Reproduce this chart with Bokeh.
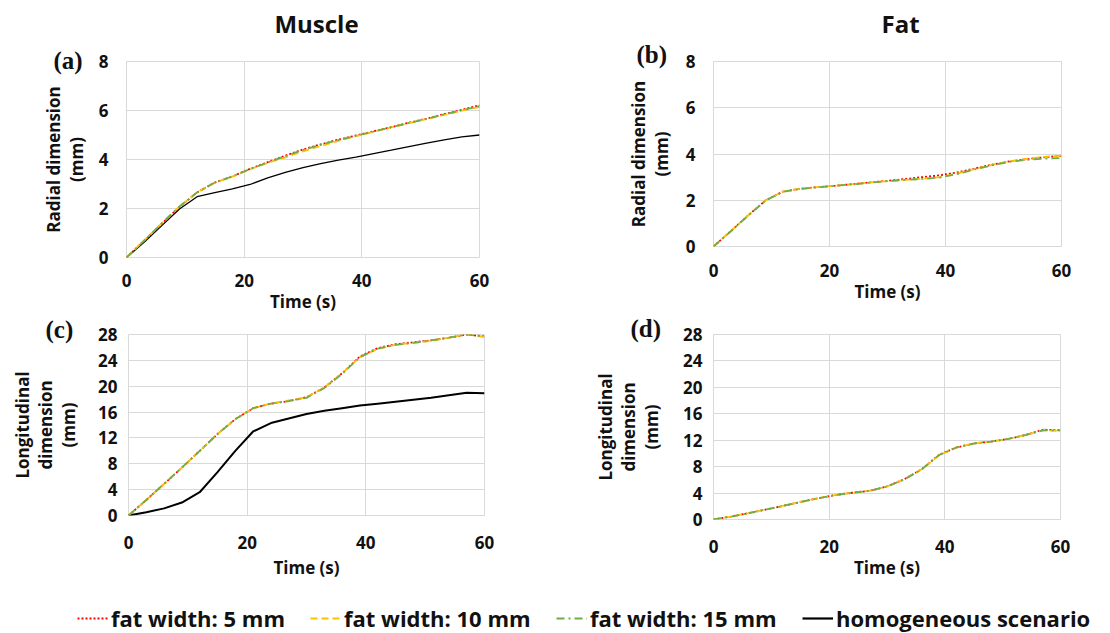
from bokeh.plotting import figure
from bokeh.models import Range1d, FixedTicker, Legend, LegendItem, Title, Label
from bokeh.layouts import column, row
from bokeh.embed import file_html
from bokeh.resources import INLINE

# ---------------- data ----------------
time_s = [0, 3, 6, 9, 12, 15, 18, 21, 24, 27, 30, 33, 36, 39, 42, 45, 48, 51, 54, 57, 60]

# (a) Muscle - radial dimension (mm)
a_fat5 = [0, 0.68, 1.38, 2.07, 2.65, 3.06, 3.31, 3.62, 3.89, 4.16, 4.41, 4.62, 4.81, 4.98, 5.15, 5.32, 5.50, 5.67, 5.85, 6.03, 6.21]
a_fat10 = [0, 0.70, 1.40, 2.08, 2.66, 3.05, 3.30, 3.60, 3.86, 4.09, 4.33, 4.55, 4.76, 4.95, 5.13, 5.31, 5.48, 5.65, 5.82, 5.99, 6.15]
a_fat15 = [0, 0.69, 1.39, 2.08, 2.66, 3.06, 3.31, 3.61, 3.88, 4.14, 4.39, 4.60, 4.79, 4.97, 5.14, 5.32, 5.49, 5.66, 5.84, 6.01, 6.18]
a_homog = [0, 0.62, 1.30, 1.98, 2.48, 2.65, 2.80, 2.98, 3.25, 3.47, 3.67, 3.83, 3.97, 4.10, 4.24, 4.38, 4.53, 4.67, 4.80, 4.92, 5.00]

# (b) Fat - radial dimension (mm)
b_fat5 = [0, 0.67, 1.35, 2.00, 2.38, 2.50, 2.57, 2.63, 2.70, 2.77, 2.84, 2.92, 3.00, 3.08, 3.20, 3.37, 3.54, 3.68, 3.78, 3.86, 3.92]
b_fat10 = [0, 0.67, 1.35, 2.00, 2.38, 2.50, 2.57, 2.63, 2.70, 2.77, 2.83, 2.88, 2.93, 3.00, 3.15, 3.35, 3.53, 3.68, 3.79, 3.88, 3.93]
b_fat15 = [0, 0.66, 1.34, 1.99, 2.37, 2.49, 2.56, 2.62, 2.69, 2.76, 2.83, 2.88, 2.92, 2.98, 3.13, 3.33, 3.51, 3.66, 3.75, 3.80, 3.82]

# (c) Muscle - longitudinal dimension (mm)
c_fat5 = [0, 2.4, 4.9, 7.4, 10.0, 12.6, 14.9, 16.6, 17.3, 17.7, 18.3, 19.8, 22.0, 24.6, 25.9, 26.5, 26.8, 27.1, 27.5, 28.0, 27.7]
c_fat10 = [0, 2.4, 4.9, 7.4, 10.0, 12.6, 14.9, 16.6, 17.3, 17.8, 18.3, 19.8, 22.0, 24.5, 25.8, 26.4, 26.7, 27.0, 27.5, 28.1, 27.6]
c_fat15 = [0, 2.4, 4.9, 7.4, 10.0, 12.6, 14.9, 16.6, 17.3, 17.7, 18.2, 19.7, 21.9, 24.5, 25.8, 26.4, 26.7, 27.1, 27.5, 28.0, 27.7]
c_homog = [0, 0.5, 1.1, 2.0, 3.6, 6.7, 10.0, 13.0, 14.3, 15.0, 15.7, 16.2, 16.6, 17.0, 17.3, 17.6, 17.9, 18.2, 18.6, 19.0, 18.9]

# (d) Fat - longitudinal dimension (mm)
d_fat5 = [0, 0.45, 0.95, 1.50, 2.05, 2.65, 3.20, 3.70, 4.05, 4.35, 5.00, 6.10, 7.60, 9.80, 10.9, 11.5, 11.8, 12.2, 12.8, 13.6, 13.5]
d_fat10 = [0, 0.45, 0.95, 1.50, 2.05, 2.65, 3.20, 3.70, 4.05, 4.35, 5.00, 6.10, 7.60, 9.70, 10.9, 11.5, 11.8, 12.2, 12.8, 13.5, 13.4]
d_fat15 = [0, 0.44, 0.94, 1.50, 2.04, 2.64, 3.19, 3.70, 4.04, 4.34, 4.98, 6.08, 7.58, 9.75, 10.9, 11.5, 11.8, 12.2, 12.8, 13.5, 13.5]

x_ticks = [0, 20, 40, 60]
y_ticks_radial = [0, 2, 4, 6, 8]
y_ticks_long = [0, 4, 8, 12, 16, 20, 24, 28]

column_titles = ["Muscle", "Fat"]
series_names = ["fat width: 5 mm", "fat width: 10 mm", "fat width: 15 mm", "homogeneous scenario"]

# ---------------- styles ----------------
SANS = "Open Sans"
SERIF = "Liberation Serif"
GRID = "#d9d9d9"
STY = {
    "fat5": dict(line_color="#ff0000", line_dash="2 2", line_width=1.8),
    "fat10": dict(line_color="#ffc000", line_dash="7 4", line_width=1.8),
    "fat15": dict(line_color="#70ad47", line_dash="8 4 2 4", line_width=1.8),
    "homog": dict(line_color="#000000", line_width=1.6),
}


def make_panel(fw, fh, bl, br, bt, bb, ymax, yticks, ylabel,
               ystand, ylab_stand, xstand, xlab_stand):
    p = figure(frame_width=fw, frame_height=fh,
               min_border_left=bl, min_border_right=br,
               min_border_top=bt, min_border_bottom=bb,
               x_range=Range1d(0, 60), y_range=Range1d(0, ymax),
               output_backend="svg", toolbar_location=None)
    p.outline_line_color = GRID
    p.background_fill_color = "white"
    p.border_fill_color = "white"
    for ax in (p.xaxis[0], p.yaxis[0]):
        ax.axis_line_color = None
        ax.major_tick_line_color = None
        ax.minor_tick_line_color = None
        ax.major_tick_in = 0
        ax.major_tick_out = 0
        ax.minor_tick_in = 0
        ax.minor_tick_out = 0
        ax.major_label_text_font = SANS
        ax.major_label_text_font_style = "bold"
        ax.major_label_text_font_size = "17px"
        ax.major_label_text_color = "#111111"
        ax.major_label_text_line_height = 1.0
        ax.axis_label_text_font = SANS
        ax.axis_label_text_font_style = "bold"
        ax.axis_label_text_font_size = "17px"
        ax.axis_label_text_color = "#111111"
        ax.axis_label_text_line_height = 1.0
    p.xaxis.ticker = FixedTicker(ticks=x_ticks)
    p.yaxis.ticker = FixedTicker(ticks=yticks)
    p.xaxis.axis_label = "Time (s)"
    p.yaxis.axis_label = ylabel
    p.yaxis.major_label_standoff = ystand
    p.yaxis.axis_label_standoff = ylab_stand
    p.xaxis.major_label_standoff = xstand
    p.xaxis.axis_label_standoff = xlab_stand
    p.xgrid.grid_line_color = GRID
    p.ygrid.grid_line_color = GRID
    p.xgrid.ticker = FixedTicker(ticks=x_ticks)
    p.ygrid.ticker = FixedTicker(ticks=yticks)
    return p


def tag(p, text, offset, standoff):
    # panel tag, drawn as a title placed next to the frame's top-left corner
    p.add_layout(Title(text=text, align="left", offset=offset, standoff=standoff,
                       vertical_align="bottom", text_font=SERIF, text_font_style="bold",
                       text_font_size="25px", text_color="#111111"), "above")


def draw(p, fat5, fat10, fat15, homog=None, lw=1.6):
    if homog is not None:
        p.line(time_s, homog, **{**STY["homog"], "line_width": lw})
    p.line(time_s, fat5, **STY["fat5"])
    p.line(time_s, fat10, **STY["fat10"])
    p.line(time_s, fat15, **STY["fat15"])


# header strip with the column titles (pixel coordinates, y downwards)
HEAD_H = 40
ph = figure(width=1108, height=HEAD_H, x_range=Range1d(0, 1108), y_range=Range1d(HEAD_H, 0),
            x_axis_type=None, y_axis_type=None, min_border=0,
            output_backend="svg", toolbar_location=None)
ph.outline_line_color = None
ph.xgrid.visible = False
ph.ygrid.visible = False
for txt, cx in zip(column_titles, [316, 900]):
    ph.add_layout(Label(x=cx, y=23, text=txt, text_font=SANS, text_font_style="bold",
                        text_font_size="24px", text_align="center", text_baseline="middle",
                        text_color="#111111"))

T1 = 61 - HEAD_H
# (a)
pa = make_panel(353, 196, 126, 76, T1, 56, 8, y_ticks_radial, "Radial dimension\n(mm)",
                18, 8, 16, 0)
draw(pa, a_fat5, a_fat10, a_fat15, a_homog, lw=1.3)
tag(pa, "(a)", -73, -25)

# (b)
pb = make_panel(348, 185, 158, 47, T1, 67, 8, y_ticks_radial, "Radial dimension\n(mm)",
                18, 10, 17, 0)
draw(pb, b_fat5, b_fat10, b_fat15)
tag(pb, "(b)", -77, -13)

T2 = 19
# (c)
pc = make_panel(356, 181, 128, 71, T2, 85, 28, y_ticks_long, "Longitudinal\ndimension\n(mm)",
                11, 15, 20, 4)
draw(pc, c_fat5, c_fat10, c_fat15, c_homog, lw=2.0)
tag(pc, "(c)", -83, -16)

# (d)
pd_ = make_panel(347, 185, 158, 48, T2, 81, 28, y_ticks_long, "Longitudinal\ndimension\n(mm)",
                 11, 17, 20, 0)
draw(pd_, d_fat5, d_fat10, d_fat15)
tag(pd_, "(d)", -83, -15)

# legend strip
nan = float("nan")
pl = figure(width=1108, height=33, x_range=Range1d(0, 1), y_range=Range1d(0, 1),
            x_axis_type=None, y_axis_type=None, min_border=0,
            output_backend="svg", toolbar_location=None)
pl.outline_line_color = None
pl.xgrid.visible = False
pl.ygrid.visible = False
keys = ["fat5", "fat10", "fat15", "homog"]
starts = [77, 310, 556, 802]
for key, name, x0 in zip(keys, series_names, starts):
    r = pl.line(x=[nan], y=[nan], **STY[key])
    if key == "homog":
        r.glyph.line_width = 2.2
    leg = Legend(items=[LegendItem(label=name, renderers=[r])], location=(x0, 0),
                 orientation="horizontal", padding=0, margin=0, border_line_color=None,
                 background_fill_alpha=0, glyph_width=31, glyph_height=24,
                 label_standoff=3, label_height=24, label_text_font=SANS,
                 label_text_font_style="bold", label_text_font_size="22px",
                 label_text_color="#111111", label_text_baseline="middle")
    pl.add_layout(leg)

layout = column(ph, row(pa, pb), row(pc, pd_), pl)

with open("out.html", "w") as f:
    f.write(file_html(layout, INLINE))
